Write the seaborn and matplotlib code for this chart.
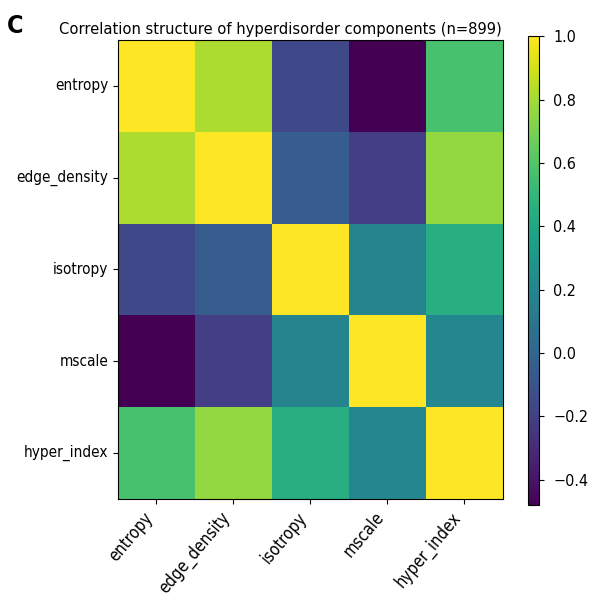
import numpy as np
import pandas as pd
import matplotlib
matplotlib.use("Agg")
import matplotlib.pyplot as plt
import seaborn as sns

# Bileşen isimleri ve korelasyon matrisi (görselden okunan değerler)
bilesenler = ["entropy", "edge_density", "isotropy", "mscale", "hyper_index"]
satir_entropy = [1.00, 0.82, -0.16, -0.48, 0.57]
satir_edge = [0.82, 1.00, -0.05, -0.21, 0.76]
satir_isotropy = [-0.16, -0.05, 1.00, 0.19, 0.45]
satir_mscale = [-0.48, -0.21, 0.19, 1.00, 0.20]
satir_hyper = [0.57, 0.76, 0.45, 0.20, 1.00]
cbar_ticks = [-0.4, -0.2, 0.0, 0.2, 0.4, 0.6, 0.8, 1.0]
n_ornek = 899

corr = pd.DataFrame([satir_entropy, satir_edge, satir_isotropy, satir_mscale, satir_hyper],
                    index=bilesenler, columns=bilesenler)

# Dar yazı tipi (referanstaki sıkışık görünüm için)
plt.rcParams['font.stretch'] = 'condensed'

fig = plt.figure(figsize=(5.93, 5.98), dpi=100)
ax = fig.add_axes([0.199, 0.1656, 0.649, 0.7676])
cax = fig.add_axes([0.890, 0.1555, 0.0186, 0.784])

sns.heatmap(corr, cmap="viridis", ax=ax, cbar_ax=cax, square=False,
            cbar_kws={"ticks": cbar_ticks})

# Çerçeveleri geri getir
for sp in ax.spines.values():
    sp.set_visible(True)
    sp.set_linewidth(0.8)
cbar = ax.collections[0].colorbar
cbar.outline.set_visible(True)
cbar.outline.set_linewidth(0.8)
cbar.ax.tick_params(labelsize=11.5, length=3.5, pad=7)

ax.tick_params(axis="y", length=3.5, labelsize=11)
ax.tick_params(axis="x", length=3.5, labelsize=12)
ax.set_yticklabels(bilesenler, rotation=0)
ax.set_xticklabels(bilesenler, rotation=50, ha="right")
ax.set_xlabel("")
ax.set_ylabel("")

ax.set_title(f"Correlation structure of hyperdisorder components (n={n_ornek})",
             fontsize=11.8, x=0.422, pad=4)
fig.text(0.012, 0.945, "C", fontsize=18, fontweight="bold")

fig.savefig("out.png", dpi=100)
